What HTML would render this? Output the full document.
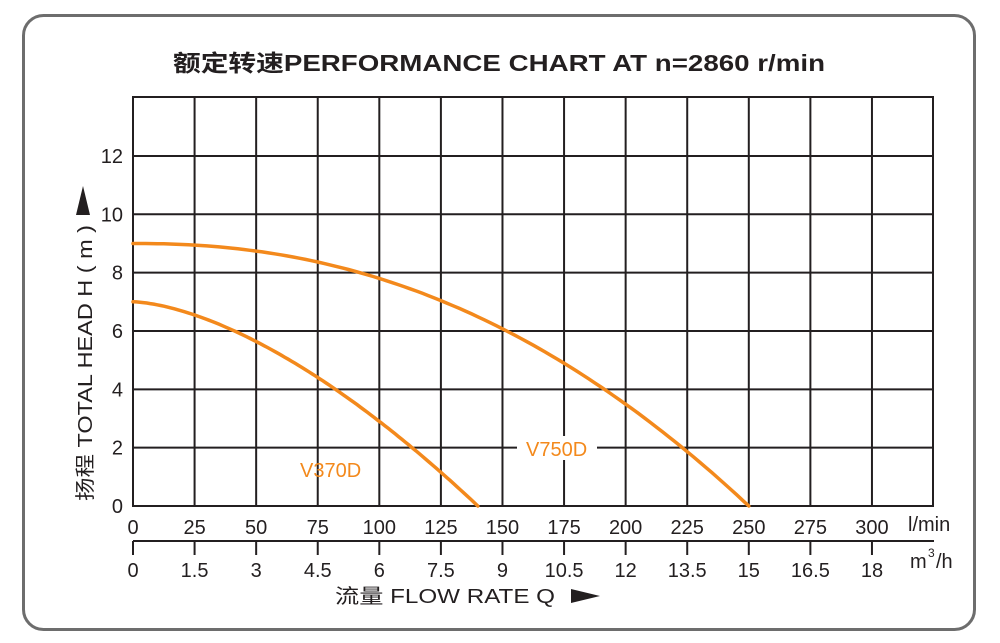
<!DOCTYPE html>
<html><head><meta charset="utf-8"><style>
html,body{margin:0;padding:0;background:#fff;width:1000px;height:643px;overflow:hidden}
svg{display:block}
text{font-family:"Liberation Sans","Noto Sans CJK SC",sans-serif;fill:#231f20}
</style></head><body>
<svg id="s" width="1000" height="643" viewBox="0 0 1000 643">
<rect x="23.5" y="15.5" width="951" height="614" rx="20" fill="none" stroke="#6d6d6d" stroke-width="3"/>
<text x="173" y="71" font-size="23" font-weight="bold" textLength="652" lengthAdjust="spacingAndGlyphs">额定转速PERFORMANCE CHART AT  n=2860 r/min</text>
<g id="grid" stroke="#231f20" stroke-width="2" fill="none"></g>
<g id="curves" fill="none" stroke="#f3891c" stroke-width="3.5" stroke-linecap="round"></g>
<rect x="517" y="436" width="80" height="24" fill="#fff"/>
<text x="526" y="456" font-size="20" style="fill:#f3891c">V750D</text>
<text x="300" y="477" font-size="20" style="fill:#f3891c">V370D</text>
<g id="labels" font-size="20"></g>
<text x="908" y="531" font-size="20">l/min</text>
<text x="910" y="568" font-size="20">m</text>
<text x="928" y="557" font-size="12">3</text>
<text x="936" y="568" font-size="20">/h</text>
<text x="335" y="603" font-size="20" textLength="220" lengthAdjust="spacingAndGlyphs">流量 FLOW RATE  Q</text>
<polygon points="571,589 571,603 600,596" fill="#231f20"/>
<text transform="translate(92,501) rotate(-90)" font-size="20" textLength="276" lengthAdjust="spacingAndGlyphs">扬程 TOTAL HEAD  H ( m )</text>
<polygon points="76,215 90,215 83,186" fill="#231f20"/>
</svg>
<script>
var NS="http://www.w3.org/2000/svg";
function el(p,t,a,txt){var e=document.createElementNS(NS,t);for(var k in a)e.setAttribute(k,a[k]);if(txt!==undefined)e.textContent=txt;document.getElementById(p).appendChild(e);return e;}
var x0=133,dx=61.58,y0=506,dy=29.17,yTop=97,xRight=933;
el("grid","rect",{x:x0,y:yTop,width:xRight-x0,height:y0-yTop});
for(var i=1;i<13;i++){var x=x0+i*dx;el("grid","line",{x1:x,y1:yTop,x2:x,y2:y0});}
for(var j=1;j<=6;j++){var y=y0-j*2*dy;el("grid","line",{x1:x0,y1:y,x2:xRight,y2:y});}
el("grid","line",{x1:x0,y1:541,x2:xRight+1,y2:541});
for(var i=0;i<13;i++){var x=x0+i*dx;el("grid","line",{x1:x,y1:541,x2:x,y2:555});}
var lm=[0,25,50,75,100,125,150,175,200,225,250,275,300];
var m3=["0","1.5","3","4.5","6","7.5","9","10.5","12","13.5","15","16.5","18"];
for(var i=0;i<13;i++){var x=x0+i*dx;
el("labels","text",{x:x,y:534,"text-anchor":"middle"},String(lm[i]));
el("labels","text",{x:x,y:577,"text-anchor":"middle"},m3[i]);}
for(var j=0;j<=6;j++){el("labels","text",{x:123,y:y0-j*2*dy+7,"text-anchor":"end"},String(j*2));}
function curve(H,Qm,p){var d="";for(var k=0;k<=100;k++){var q=Qm*k/100;var h=H*(1-Math.pow(q/Qm,p));
var x=x0+q/25*dx,y=y0-h*dy;d+=(k?"L":"M")+x.toFixed(1)+","+y.toFixed(1);}
el("curves","path",{d:d});}
curve(9,250,2.2);curve(7,140,1.59);
</script>
</body></html>
